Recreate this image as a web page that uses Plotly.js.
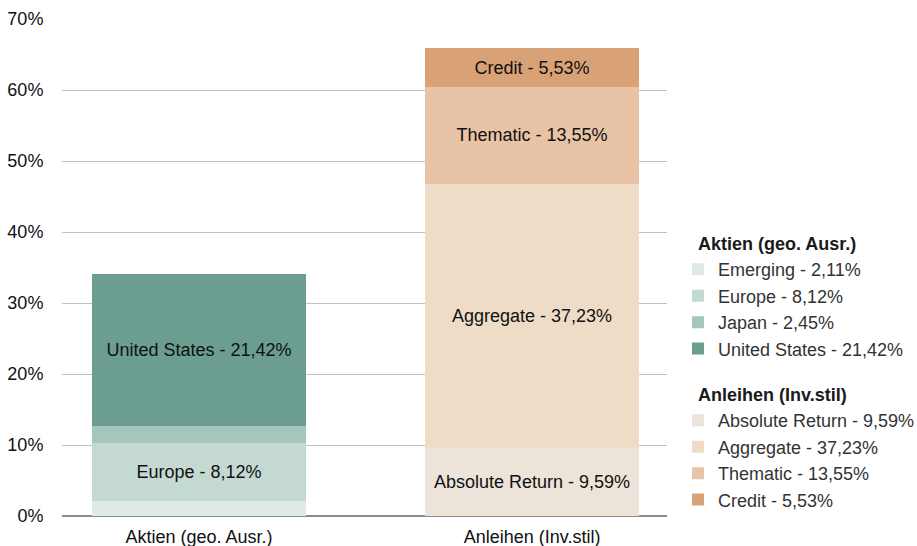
<!DOCTYPE html>
<html><head><meta charset="utf-8">
<script src="https://cdn.plot.ly/plotly-3.0.1.min.js"></script>
<style>body{margin:0;background:#fff}#c{width:917px;height:546px}</style>
</head><body><div id="c"></div>
<script>
const categories = ['Aktien (geo. Ausr.)', 'Anleihen (Inv.stil)'];
const aktienNames = ['Emerging', 'Europe', 'Japan', 'United States'];
const aktienValues = [2.11, 8.12, 2.45, 21.42];
const aktienShowLabel = [false, true, false, true];
const aktienColors = ['#dfe9e5', '#c3d9d1', '#a5c6ba', '#6b9e90'];
const anleihenNames = ['Absolute Return', 'Aggregate', 'Thematic', 'Credit'];
const anleihenValues = [9.59, 37.23, 13.55, 5.53];
const anleihenShowLabel = [true, true, true, true];
const anleihenColors = ['#ece3d9', '#eedcc7', '#e8c3a6', '#d9a276'];
const yTicks = [0, 10, 20, 30, 40, 50, 60, 70];

const FONT = 'Liberation Sans, Arial, Helvetica, sans-serif';
const fmt = v => v.toFixed(2).replace('.', ',') + '%';
const PAD = '\u00a0\u00a0\u00a0';

const traces = [];
function addGroup(names, values, show, colors, cat, group) {
  names.forEach((n, i) => {
    const label = n + ' - ' + fmt(values[i]);
    traces.push({
      type: 'bar', x: [cat], y: [values[i]], name: label,
      legendgroup: group,
      legendgrouptitle: {text: PAD + group, font: {family: FONT, size: 18, color: '#1a1a1a', weight: 'bold'}},
      marker: {color: colors[i], line: {width: 0}},
      text: [show[i] ? label : ''], textposition: 'inside', insidetextanchor: 'middle',
      textangle: 0, constraintext: 'none',
      insidetextfont: {family: FONT, size: 18, color: '#111'},
      width: 0.64, hoverinfo: 'skip'
    });
  });
}
addGroup(aktienNames, aktienValues, aktienShowLabel, aktienColors, categories[0], 'Aktien (geo. Ausr.)');
addGroup(anleihenNames, anleihenValues, anleihenShowLabel, anleihenColors, categories[1], 'Anleihen (Inv.stil)');

const layout = {
  width: 917, height: 546,
  margin: {l: 62, r: 250, t: 19, b: 30, autoexpand: false},
  barmode: 'stack',
  paper_bgcolor: '#fff', plot_bgcolor: '#fff',
  font: {family: FONT, size: 18, color: '#222'},
  separators: ',.',
  showlegend: true,
  xaxis: {type: 'category', range: [-0.411, 1.405], showgrid: false, showline: false,
    tickfont: {family: FONT, size: 18, color: '#111'},
    ticks: 'outside', ticklen: 4, tickcolor: 'rgba(0,0,0,0)', fixedrange: true},
  yaxis: {range: [0, 70], tickvals: yTicks, ticktext: yTicks.map(t => t + '%'),
    showgrid: true, gridcolor: '#c0c0c0', gridwidth: 1,
    zeroline: true, zerolinecolor: '#8a8a8a', zerolinewidth: 2,
    showline: false, ticks: 'outside', ticklen: 14, tickcolor: 'rgba(0,0,0,0)',
    tickfont: {family: FONT, size: 18, color: '#111'}},
  legend: {x: 1.0182, xanchor: 'left', y: 0.586, yanchor: 'top',
    traceorder: 'grouped', tracegroupgap: 19,
    font: {family: FONT, size: 18, color: '#333'}, bgcolor: 'rgba(0,0,0,0)'}
};
Plotly.newPlot('c', traces, layout, {displayModeBar: false, staticPlot: true});
</script></body></html>
